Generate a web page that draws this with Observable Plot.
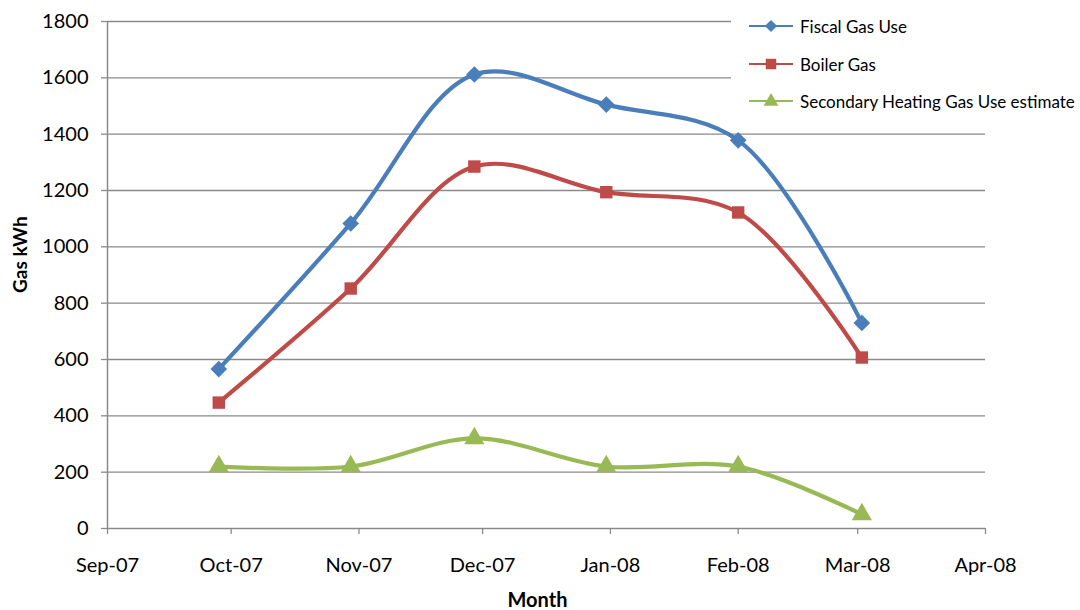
<!DOCTYPE html>
<html>
<head>
<meta charset="utf-8">
<script src="https://cdn.jsdelivr.net/npm/d3@7"></script>
<script src="https://cdn.jsdelivr.net/npm/@observablehq/plot@0.6"></script>
<style>
  html, body { margin: 0; padding: 0; background: #fff; }
  #wrap { position: relative; width: 1080px; height: 610px; font-family: Lato, "Open Sans", sans-serif; }
  #legend { position: absolute; left: 731px; top: 0px; width: 349px; height: 120px; background: #fff; }
  .item { position: absolute; left: 18px; height: 20px; display: flex; align-items: center; font-size: 17px; color: #000; white-space: nowrap; }
  .item svg { margin-right: 7px; }
</style>
</head>
<body>
<div id="wrap"><div id="chart"></div><div id="legend"></div></div>
<script>
// ---- data ----
const readDates = ["2007-09-28", "2007-10-30", "2007-11-29", "2007-12-31", "2008-02-01", "2008-03-02"];
const fiscalGas = [566, 1083, 1612, 1505, 1378, 730];
const boilerGas = [447, 852, 1285, 1194, 1122, 607];
const secondaryGas = [220, 220, 320, 220, 220, 50];
const seriesNames = ["Fiscal Gas Use", "Boiler Gas", "Secondary Heating Gas Use estimate"];
const seriesColors = ["#4A7EBB", "#BE4B48", "#98B954"];
const seriesSymbols = ["diamond2", "square", "triangle"];
const yTicks = [0, 200, 400, 600, 800, 1000, 1200, 1400, 1600, 1800];
const xTickDates = ["2007-09-01", "2007-10-01", "2007-11-01", "2007-12-01", "2008-01-01", "2008-02-01", "2008-03-01", "2008-04-01"];

const seriesValues = [fiscalGas, boilerGas, secondaryGas];
const rows = [];
seriesNames.forEach((name, i) => {
  readDates.forEach((d, j) => rows.push({ series: name, date: new Date(d + "T00:00:00"), value: seriesValues[i][j] }));
});
const xTicks = xTickDates.map(d => new Date(d + "T00:00:00"));
const fmt = d3.timeFormat("%b-%y");

const grid = "#8a8a8a";
const marks = [
  Plot.ruleY(yTicks.filter(v => v > 0), { stroke: grid, strokeWidth: 1.3 }),
  Plot.axisY({ ticks: yTicks, tickSize: 6, tickPadding: 13, stroke: grid, strokeWidth: 1.3, label: null, fontSize: 20, tickFormat: d => String(d) }),
  Plot.axisX({ ticks: xTicks, tickSize: 6, tickPadding: 23, stroke: grid, strokeWidth: 1.3, label: null, fontSize: 20, tickFormat: fmt }),
  Plot.ruleX([xTicks[0]], { stroke: grid, strokeWidth: 1.5 }),
  Plot.ruleY([0], { stroke: grid, strokeWidth: 1.5 })
];
seriesNames.forEach((name, i) => {
  const data = rows.filter(r => r.series === name);
  marks.push(Plot.line(data, { x: "date", y: "value", stroke: seriesColors[i], strokeWidth: 4.2, curve: "catmull-rom" }));
  marks.push(Plot.dot(data, { x: "date", y: "value", fill: seriesColors[i], symbol: seriesSymbols[i], r: i === 1 ? 7 : 7.5, stroke: "none" }));
});
marks.push(Plot.text(["Gas kWh"], { frameAnchor: "left", dx: -87, dy: 18, rotate: -90, fontWeight: "bold", fontSize: 19 }));
marks.push(Plot.text(["Month"], { frameAnchor: "bottom", dx: -9, dy: 78, fontWeight: "bold", fontSize: 20 }));

const chart = Plot.plot({
  width: 1080,
  height: 610,
  marginLeft: 107,
  marginRight: 95,
  marginTop: 21,
  marginBottom: 82,
  style: { fontFamily: "Lato, 'Open Sans', sans-serif", color: "#000", background: "#fff", overflow: "visible" },
  x: { type: "time", domain: [xTicks[0], xTicks[xTicks.length - 1]] },
  y: { domain: [0, 1800] },
  marks
});
document.getElementById("chart").appendChild(chart);

// ---- legend ----
const legend = document.getElementById("legend");
const tops = [16, 54, 91];
seriesNames.forEach((name, i) => {
  const div = document.createElement("div");
  div.className = "item";
  div.style.top = tops[i] + "px";
  const sym = d3.symbol(i === 0 ? d3.symbolDiamond2 : i === 1 ? d3.symbolSquare : d3.symbolTriangle, i === 1 ? 110 : 95)();
  div.innerHTML = `<svg width="44" height="20"><line x1="0" x2="44" y1="10" y2="10" stroke="${seriesColors[i]}" stroke-width="2"/><path d="${sym}" transform="translate(22,${i === 2 ? 10.5 : 10})" fill="${seriesColors[i]}"/></svg><span>${name}</span>`;
  legend.appendChild(div);
});
</script>
</body>
</html>
